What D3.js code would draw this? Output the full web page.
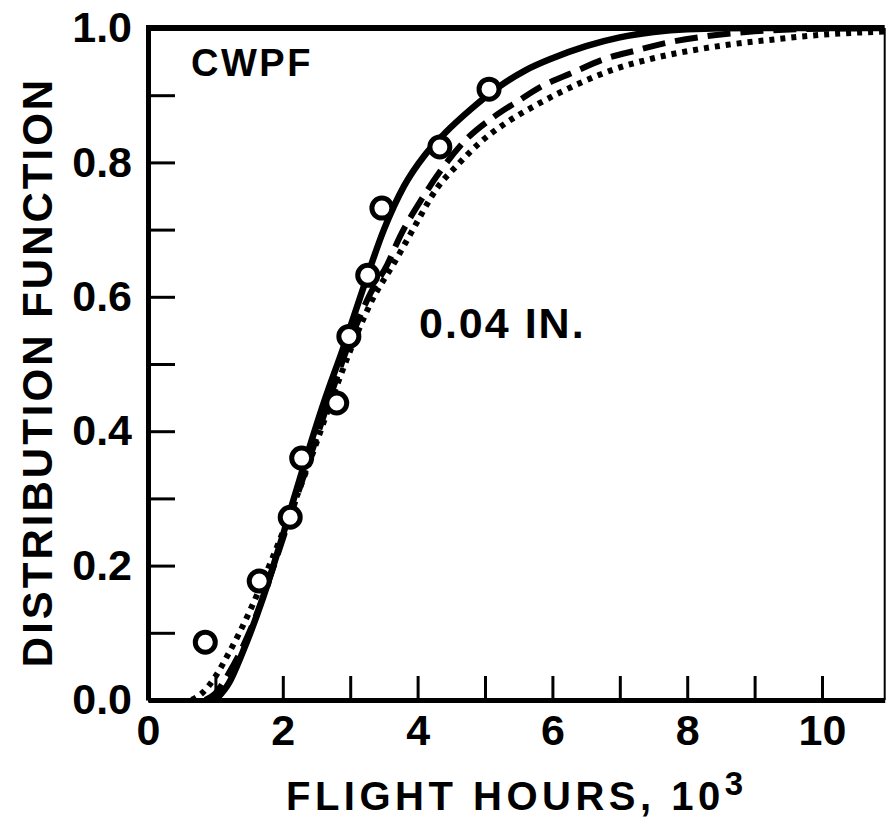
<!DOCTYPE html>
<html>
<head>
<meta charset="utf-8">
<script src="https://cdn.jsdelivr.net/npm/d3@7/dist/d3.min.js"></script>
<style>
  html, body { margin: 0; padding: 0; background: #fff; }
  svg { display: block; }
</style>
</head>
<body>
<svg id="chart" width="886" height="821"></svg>
<script>
// ---- data ----
const xTickValues = [0, 1, 2, 3, 4, 5, 6, 7, 8, 9, 10];
const xTickLabels = ["0", "", "2", "", "4", "", "6", "", "8", "", "10"];
const yTickValues = [0, 0.1, 0.2, 0.3, 0.4, 0.5, 0.6, 0.7, 0.8, 0.9, 1.0];
const yTickLabels = ["0.0", "", "0.2", "", "0.4", "", "0.6", "", "0.8", "", "1.0"];

// observed points (flight hours in 10^3, distribution function)
const obsX = [0.85, 1.65, 2.11, 2.28, 2.80, 2.98, 3.26, 3.47, 4.33, 5.06];
const obsY = [0.086, 0.177, 0.272, 0.360, 0.442, 0.541, 0.632, 0.732, 0.823, 0.909];

// solid curve
const solidX = [1.0, 1.2, 1.4, 1.7, 2.0, 2.3, 2.6, 2.9, 3.2, 3.5, 3.8, 4.1, 4.4, 4.8, 5.2, 5.6, 6.0, 6.5, 7.0, 7.5, 8.0, 9.0, 11.0];
const solidY = [0.0, 0.025, 0.07, 0.15, 0.245, 0.345, 0.44, 0.525, 0.615, 0.70, 0.765, 0.81, 0.843, 0.88, 0.912, 0.937, 0.955, 0.973, 0.986, 0.994, 0.998, 1.0, 1.0];

// dashed curve
const dashedX = [0.85, 1.0, 1.2, 1.5, 1.8, 2.1, 2.4, 2.7, 3.0, 3.3, 3.55, 3.74, 4.04, 4.33, 4.73, 5.12, 5.5, 5.82, 6.31, 6.75, 7.26, 7.7, 8.3, 9.0, 10.0, 11.0];
const dashedY = [0.0, 0.01, 0.04, 0.10, 0.18, 0.27, 0.36, 0.45, 0.535, 0.605, 0.648, 0.69, 0.742, 0.786, 0.835, 0.867, 0.892, 0.912, 0.934, 0.953, 0.967, 0.978, 0.988, 0.995, 0.999, 1.0];

// dotted curve
const dottedX = [0.65, 0.8, 1.0, 1.2, 1.5, 1.8, 2.1, 2.4, 2.7, 3.0, 3.3, 3.69, 3.93, 4.29, 4.6, 4.93, 5.3, 5.77, 6.41, 6.9, 7.5, 8.09, 8.6, 9.2, 10.0, 11.0];
const dottedY = [0.0, 0.01, 0.035, 0.07, 0.13, 0.20, 0.275, 0.355, 0.44, 0.52, 0.59, 0.657, 0.70, 0.762, 0.797, 0.830, 0.858, 0.886, 0.918, 0.938, 0.955, 0.967, 0.975, 0.982, 0.99, 0.995];

// ---- layout ----
const svg = d3.select("#chart");
const FONT = "'Liberation Sans', Arial, Helvetica, sans-serif";
const x = d3.scaleLinear().domain([0, 10.93]).range([148, 884.7]);
const y = d3.scaleLinear().domain([0, 1]).range([700, 28]);

svg.append("defs").append("clipPath").attr("id", "plotclip")
  .append("rect").attr("x", x(0)).attr("y", y(1)).attr("width", x(10.93) - x(0)).attr("height", y(0) - y(1));

const plot = svg.append("g").attr("clip-path", "url(#plotclip)");

const line = d3.line().x(d => x(d[0])).y(d => y(d[1])).curve(d3.curveMonotoneX);

plot.append("path").datum(d3.zip(dottedX, dottedY))
  .attr("d", line).attr("fill", "none").attr("stroke", "#000")
  .attr("stroke-width", 6).attr("stroke-dasharray", "5 6");

plot.append("path").datum(d3.zip(dashedX, dashedY))
  .attr("d", line).attr("fill", "none").attr("stroke", "#000")
  .attr("stroke-width", 6).attr("stroke-dasharray", "23 10");

plot.append("path").datum(d3.zip(solidX, solidY))
  .attr("d", line).attr("fill", "none").attr("stroke", "#000")
  .attr("stroke-width", 6.5);

// ---- axes ----
const yAxis = d3.axisLeft(y).tickValues(yTickValues)
  .tickSizeInner(-27).tickSizeOuter(0).tickPadding(16)
  .tickFormat((d, i) => yTickLabels[i]);
const gy = svg.append("g").attr("transform", `translate(${x(0)},0)`).call(yAxis);
gy.select(".domain").attr("stroke-width", 5);
gy.selectAll(".tick line").attr("stroke-width", 3);
gy.selectAll(".tick text").attr("font-family", FONT).attr("font-weight", "bold")
  .attr("font-size", 43).attr("fill", "#000");

const xAxis = d3.axisBottom(x).tickValues(xTickValues)
  .tickSizeInner(-24).tickSizeOuter(0).tickPadding(14)
  .tickFormat((d, i) => xTickLabels[i]);
const gx = svg.append("g").attr("transform", `translate(0,${y(0)})`).call(xAxis);
gx.select(".domain").attr("stroke-width", 5);
gx.selectAll(".tick line").attr("stroke-width", 3);
gx.selectAll(".tick text").attr("font-family", FONT).attr("font-weight", "bold")
  .attr("font-size", 43).attr("fill", "#000");

// frame top and right
svg.append("line").attr("x1", x(0) - 2).attr("x2", x(10.93)).attr("y1", y(1)).attr("y2", y(1))
  .attr("stroke", "#000").attr("stroke-width", 6);
svg.append("line").attr("x1", x(10.93)).attr("x2", x(10.93)).attr("y1", y(1)).attr("y2", y(0))
  .attr("stroke", "#000").attr("stroke-width", 2);

// observed circles
svg.append("g").selectAll("circle").data(d3.zip(obsX, obsY)).join("circle")
  .attr("cx", d => x(d[0])).attr("cy", d => y(d[1])).attr("r", 10)
  .attr("fill", "#fff").attr("stroke", "#000").attr("stroke-width", 5);

// ---- texts ----
svg.append("text").attr("x", 191).attr("y", 76)
  .attr("font-family", FONT).attr("font-weight", "bold").attr("font-size", 38)
  .attr("letter-spacing", 2.5).text("CWPF");

svg.append("text").attr("x", 419).attr("y", 338)
  .attr("font-family", FONT).attr("font-weight", "bold").attr("font-size", 43)
  .attr("letter-spacing", 2).text("0.04 IN.");

const xt = svg.append("text").attr("x", 286).attr("y", 810)
  .attr("font-family", FONT).attr("font-weight", "bold").attr("font-size", 40)
  .attr("letter-spacing", 4.5);
xt.append("tspan").text("FLIGHT HOURS, 10");
xt.append("tspan").attr("dy", -15).attr("font-size", 33).text("3");

svg.append("text")
  .attr("transform", "translate(52,372) rotate(-90)")
  .attr("text-anchor", "middle")
  .attr("font-family", FONT).attr("font-weight", "bold").attr("font-size", 42)
  .attr("letter-spacing", 3).text("DISTRIBUTION FUNCTION");
</script>
</body>
</html>
